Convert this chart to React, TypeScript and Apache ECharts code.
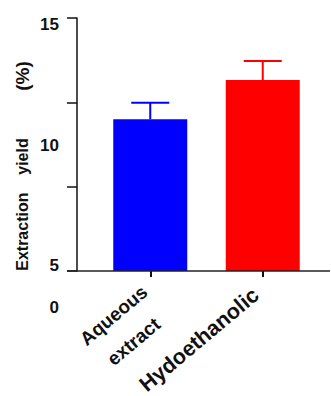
import React, { useEffect, useRef } from "react";
import * as echarts from "echarts";

const categories = ["Aqueous\nextract", "Hydoethanolic"];
const means = [11.0, 12.55];
const sds = [0.65, 0.75];
const barColors = ["#0000FF", "#FF0000"];
const yTickValues = [5, 8.333, 11.667, 15];
const yLabelValues = [5, 10, 15];
const yTitleParts = ["Extraction    yield", "         (%)"];
const breakLabel = "0";

const FONT = "'Liberation Sans', Arial, sans-serif";

export default function App() {
  const ref = useRef<HTMLDivElement>(null);
  useEffect(() => {
    document.body.style.margin = "0";
    if (!ref.current) return;
    const chart = echarts.init(ref.current, undefined, { renderer: "svg" });
    const errData = means.map((m, i) => [i, m, m + sds[i]]);
    chart.setOption({
      animation: false,
      grid: { left: 94, right: 12, top: 18, bottom: 125, containLabel: false, outerBoundsMode: "none" },
      xAxis: {
        type: "category",
        data: categories,
        axisLine: { show: false },
        axisTick: { show: true, alignWithLabel: true, length: 6, lineStyle: { color: "#111", width: 2 } },
        axisLabel: {
          rotate: 40,
          interval: 0,
          margin: -8,
          fontWeight: "bold",
          fontFamily: FONT,
          color: "#111",
          verticalAlign: "top",
          align: "right",
          padding: [0, 21, 0, 0],
          formatter: (v: string, idx: number) =>
            v
              .split("\n")
              .map((line, li) => `{${idx === 0 ? (li === 0 ? "a" : "e") : "b"}|${line}}`)
              .join("\n"),
          rich: {
            a: { fontSize: 19, lineHeight: 33, fontWeight: "bold", fontFamily: FONT, color: "#111" },
            e: { fontSize: 19, lineHeight: 33, fontWeight: "bold", fontFamily: FONT, color: "#111", padding: [0, 11, 0, 0] },
            b: { fontSize: 21.5, lineHeight: 36, fontWeight: "bold", fontFamily: FONT, color: "#111", padding: [0, 3, 0, 0] },
          },
        },
      },
      yAxis: [
        {
          type: "value",
          min: 5,
          max: 15,
          offset: 17,
          axisLine: { show: true, lineStyle: { color: "#111", width: 1.5 } },
          axisTick: { show: true, customValues: yTickValues, length: 10, lineStyle: { color: "#111", width: 1.5 } },
          axisLabel: { show: false },
          splitLine: { show: false },
        },
        {
          type: "value",
          min: 4.79,
          max: 15.29,
          offset: 17,
          position: "left",
          axisLine: { show: false },
          axisTick: { show: false },
          axisLabel: {
            customValues: yLabelValues,
            margin: 18,
            fontSize: 17,
            fontWeight: "bold",
            fontFamily: FONT,
            color: "#111",
          },
          splitLine: { show: false },
        },
      ],
      series: [
        {
          type: "bar",
          barWidth: 74,
          yAxisIndex: 0,
          data: means.map((v, i) => ({ value: v, itemStyle: { color: barColors[i] } })),
        },
        {
          type: "custom",
          yAxisIndex: 0,
          z: 3,
          data: errData,
          renderItem: (params: any, api: any) => {
            const i = api.value(0);
            const base = api.coord([i, api.value(1)]);
            const top = api.coord([i, api.value(2)]);
            const color = barColors[params.dataIndex];
            return {
              type: "group",
              children: [
                { type: "line", shape: { x1: base[0], y1: base[1], x2: top[0], y2: top[1] }, style: { stroke: color, lineWidth: 2 } },
                { type: "line", shape: { x1: top[0] - 19, y1: top[1], x2: top[0] + 19, y2: top[1] }, style: { stroke: color, lineWidth: 2 } },
              ],
            };
          },
        },
      ],
      graphic: [
        { type: "line", shape: { x1: 67, y1: 271, x2: 330, y2: 271 }, style: { stroke: "#222", lineWidth: 1.5 }, z: 10 },
        {
          type: "text",
          x: 59,
          y: 307,
          style: { text: breakLabel, fontSize: 17, fontWeight: "bold", fontFamily: FONT, fill: "#111", textAlign: "right", textVerticalAlign: "middle" },
        },
        {
          type: "text",
          x: 22,
          y: 166,
          rotation: Math.PI / 2,
          style: {
            text: `{t|${yTitleParts[0]}}{p|${yTitleParts[1]}}`,
            textAlign: "center",
            textVerticalAlign: "middle",
            rich: {
              t: { fontSize: 16, fontWeight: "bold", fontFamily: FONT, fill: "#111" },
              p: { fontSize: 19, fontWeight: "bold", fontFamily: FONT, fill: "#111" },
            },
          },
        },
      ],
    });
    return () => chart.dispose();
  }, []);
  return <div ref={ref} style={{ width: 331, height: 396 }} />;
}
